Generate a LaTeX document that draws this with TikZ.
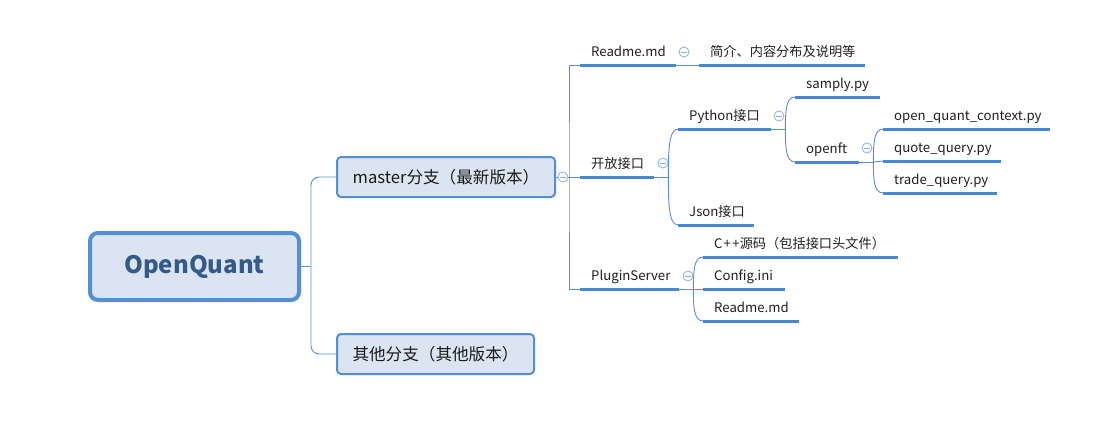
\documentclass[tikz,border=0pt]{standalone}
\usepackage{fontspec}
\setmainfont{Noto Sans CJK SC}
\usetikzlibrary{calc}
\definecolor{linec}{HTML}{5B8DD3}
\definecolor{ulc}{HTML}{4A86D4}
\definecolor{boxfill}{HTML}{DBE5F1}
\definecolor{boxdraw}{HTML}{558ED5}
\definecolor{roottext}{HTML}{345A8A}
\definecolor{foldc}{HTML}{8CB0E0}
\definecolor{txt}{HTML}{1F1F1F}
\newcommand\leafbox[2]{\makebox[#1pt][l]{#2}}
\begin{document}
\begin{tikzpicture}[x=1pt,y=-1pt,
  rootbox/.style={draw=boxdraw, line width=4pt, fill=boxfill, rounded corners=8pt,
    minimum width=209pt, minimum height=67pt, inner sep=0pt,
    font=\fontsize{24}{27}\selectfont\bfseries, text=roottext},
  mainbox/.style={draw=boxdraw, line width=2pt, fill=boxfill, rounded corners=4pt,
    minimum height=40pt, inner sep=0pt, font=\fontsize{16.6}{19}\selectfont, text=txt!85!black},
  leaf/.style={anchor=south west, inner xsep=11pt, inner ysep=8.5pt, text height=10pt, text depth=0pt,
    font=\fontsize{13.2}{15}\selectfont, text=txt},
  uline/.style={draw=ulc, line width=3pt},
  conn/.style={draw=linec, line width=0.9pt},
  branch/.style={conn, to path={.. controls ($(\tikztostart)!0.5!(\tikztostart |- \tikztotarget)$) and (\tikztostart |- \tikztotarget) .. (\tikztotarget)}},
  fold/.style={circle, draw=foldc, fill=white, line width=0.8pt, minimum size=10pt, inner sep=0pt,
    path picture={\draw[foldc, line width=0.8pt] ([xshift=-2.6pt]path picture bounding box.center) -- ([xshift=2.6pt]path picture bounding box.center);}}
]
\useasboundingbox (0,0) rectangle (1098,434);

% main nodes
\node[rootbox] (root) at (194.5,266.5) {OpenQuant};
\node[mainbox, minimum width=218pt] (master) at (446,177) {master分支（最新版本）};
\node[mainbox, minimum width=197pt] (other) at (435.5,354) {其他分支（其他版本）};

% leaves
\node[leaf] (readme) at (580,65) {\leafbox{74}{Readme.md}};
\node[leaf] (desc) at (699,65) {\leafbox{144}{简介、内容分布及说明等}};
\node[leaf] (open) at (580,177) {\leafbox{52}{开放接口}};
\node[leaf] (python) at (678,129) {\leafbox{71}{Python接口}};
\node[leaf] (samply) at (795,97) {\leafbox{63}{samply.py}};
\node[leaf] (openft) at (795,162) {\leafbox{42}{openft}};
\node[leaf] (oqc) at (883,129) {\leafbox{145}{open\_quant\_context.py}};
\node[leaf] (quote) at (883,161) {\leafbox{96}{quote\_query.py}};
\node[leaf] (trade) at (883,193) {\leafbox{92}{trade\_query.py}};
\node[leaf] (json) at (678,225) {\leafbox{54}{Json接口}};
\node[leaf] (plugin) at (580,289) {\leafbox{77}{PluginServer}};
\node[leaf] (cpp) at (703,257) {\leafbox{173}{C{\kern1pt}+{\kern1.5pt}+源码（包括接口头文件）}};
\node[leaf] (config) at (703,289) {\leafbox{60}{Config.ini}};
\node[leaf] (readmeb) at (703,321) {\leafbox{74}{Readme.md}};

% underlines
\foreach \n in {readme,desc,open,python,samply,openft,oqc,quote,trade,json,plugin,cpp,config,readmeb}
  \draw[uline] (\n.south west) -- (\n.south east);

% root connectors
\coordinate (rf) at (311,266.5);
\draw[conn] (root.east) -- (rf);
\draw[conn, rounded corners=8pt] (master.west) -| (rf) |- (other.west);

% master connectors
\coordinate (mf) at (569,177);
\draw[conn] (master.east) -- (mf);
\draw[conn] (readme.south west) -| (mf) |- (plugin.south west);
\draw[conn] (mf) -- (open.south west);

% readme -> description
\draw[conn] (readme.south east) -- (desc.south west);

% open interface
\coordinate (of) at ($(open.south east)+(14,0)$);
\draw[conn] (open.south east) -- (of);
\draw[branch] (of) to (python.south west);
\draw[branch] (of) to (json.south west);

% python
\coordinate (pf) at ($(python.south east)+(14,0)$);
\draw[conn] (python.south east) -- (pf);
\draw[branch] (pf) to (samply.south west);
\draw[branch] (pf) to (openft.south west);

% openft
\coordinate (ff) at ($(openft.south east)+(14,0)$);
\draw[conn] (openft.south east) -- (ff);
\draw[branch] (ff) to (oqc.south west);
\draw[conn] (ff) -- (quote.south west);
\draw[branch] (ff) to (trade.south west);

% plugin
\coordinate (sf) at ($(plugin.south east)+(14,0)$);
\draw[conn] (plugin.south east) -- (sf);
\draw[branch] (sf) to (cpp.south west);
\draw[conn] (sf) -- (config.south west);
\draw[branch] (sf) to (readmeb.south west);

% fold markers
\node[fold] (fmaster) at (563,177) {};
\node[fold] (freadme) at (684,52) {};
\node[fold] (fopen) at (663,163) {};
\node[fold] (fpython) at (779,116) {};
\node[fold] (fopenft) at (867,148) {};
\node[fold] (fplugin) at (688,276) {};
\end{tikzpicture}
\end{document}
